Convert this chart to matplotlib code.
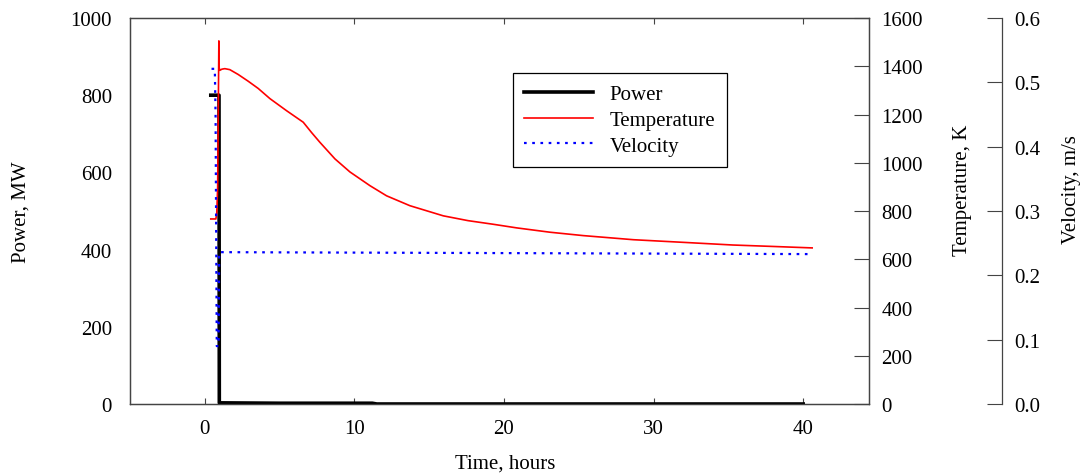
import matplotlib
matplotlib.use("Agg")
import matplotlib.pyplot as plt

plt.rcParams['font.family'] = ['Liberation Serif', 'DejaVu Serif']

# ---- data ----
power_t = [0.40, 0.90, 0.95, 0.97, 5.0, 11.2, 11.5, 40.0]
power_v = [800, 800, 800, 3, 2, 2, 0, 0]

temp_t = [0.40, 0.74, 0.80, 0.86, 0.90, 0.94, 0.96, 1.00, 1.15, 1.34, 1.67, 2.23, 2.90,
          3.57, 4.35, 5.46, 6.58, 7.14, 7.69, 8.70, 9.70, 11.04, 12.15, 13.71,
          15.94, 17.6, 19.28, 20.85, 23.08, 25.3, 28.65, 32.0, 35.3, 38.0, 40.6]
temp_v = [767, 767, 790, 900, 1200, 1505, 1395, 1383, 1388, 1390, 1386, 1366, 1338,
          1308, 1266, 1216, 1168, 1125, 1085, 1016, 962, 905, 863, 822,
          780, 760, 745, 730, 712, 698, 681, 670, 659, 653, 647]

vel_t = [0.45, 0.67, 0.72, 0.80, 0.92, 0.96, 1.2, 40.6]
vel_v = [0.521, 0.521, 0.45, 0.09, 0.09, 0.236, 0.236, 0.233]

x_ticks = [0, 10, 20, 30, 40]
p_ticks = [0, 200, 400, 600, 800, 1000]
t_ticks = [0, 200, 400, 600, 800, 1000, 1200, 1400, 1600]
v_ticks = [0.0, 0.1, 0.2, 0.3, 0.4, 0.5, 0.6]

W, H = 1083, 477
fig = plt.figure(figsize=(W / 100, H / 100), dpi=100)
ax = fig.add_axes([130 / W, 1 - 405 / H, (869 - 130) / W, (405 - 19) / H])
ax2 = ax.twinx()
ax3 = ax.twinx()

fs = 15
spine_col = '#444444'

l1, = ax.plot(power_t, power_v, color='black', lw=2.6, label='Power', zorder=3)
l2, = ax2.plot(temp_t, temp_v, color='red', lw=1.2, label='Temperature')
l3, = ax3.plot(vel_t, vel_v, color='blue', lw=1.6, ls=(0, (1.2, 2.5)), label='Velocity')

ax.set_xlim(-5, 44.4)
ax.set_ylim(0, 1000)
ax2.set_ylim(0, 1600)
ax3.set_ylim(0, 0.6)

ax.set_xticks(x_ticks)
ax.set_yticks(p_ticks)
ax2.set_yticks(t_ticks)
ax3.set_yticks(v_ticks)
ax3.set_yticklabels([f"{v:.1f}" for v in v_ticks])

ax.tick_params(axis='x', direction='in', length=4, width=0.8, top=True, bottom=True,
               labelsize=fs, pad=11, color=spine_col)
ax.tick_params(axis='y', length=0, labelsize=fs, pad=13)
ax2.tick_params(axis='y', direction='in', length=11, width=0.8, labelsize=fs, pad=9,
                color=spine_col)
ax3.tick_params(axis='y', direction='in', length=11, width=0.8, labelsize=fs, pad=9,
                color=spine_col)

for a in (ax, ax2):
    for s in a.spines.values():
        s.set_color(spine_col)
        s.set_linewidth(0.9)

ax3.spines['right'].set_position(('axes', (1002 - 130) / (869 - 130)))
for k in ('left', 'top', 'bottom'):
    ax3.spines[k].set_visible(False)
ax3.spines['right'].set_color(spine_col)
ax3.spines['right'].set_linewidth(0.9)

ax.set_xlabel('Time, hours', fontsize=fs)
ax.xaxis.set_label_coords((505 - 130) / 739, -(455 - 405) / 386)
ax.set_ylabel('Power, MW', fontsize=fs)
ax.yaxis.set_label_coords(-(130 - 31) / 739, (405 - 212) / 386)
ax2.set_ylabel('Temperature, K', fontsize=fs)
ax2.yaxis.set_label_coords((953 - 130) / 739, (405 - 190) / 386)
ax3.set_ylabel('Velocity, m/s', fontsize=fs)
ax3.yaxis.set_label_coords((1062 - 130) / 739, (405 - 190) / 386)

leg = ax3.legend(handles=[l1, l2, l3], loc='upper left',
                 bbox_to_anchor=((513 - 130) / 739, (405 - 74) / 386),
                 fontsize=fs, frameon=True, fancybox=False, framealpha=1,
                 edgecolor='black', handlelength=3.3, handletextpad=0.8,
                 borderpad=0.55, labelspacing=0.3, borderaxespad=0)
leg.get_frame().set_linewidth(0.9)

fig.savefig('out.png', dpi=100)
